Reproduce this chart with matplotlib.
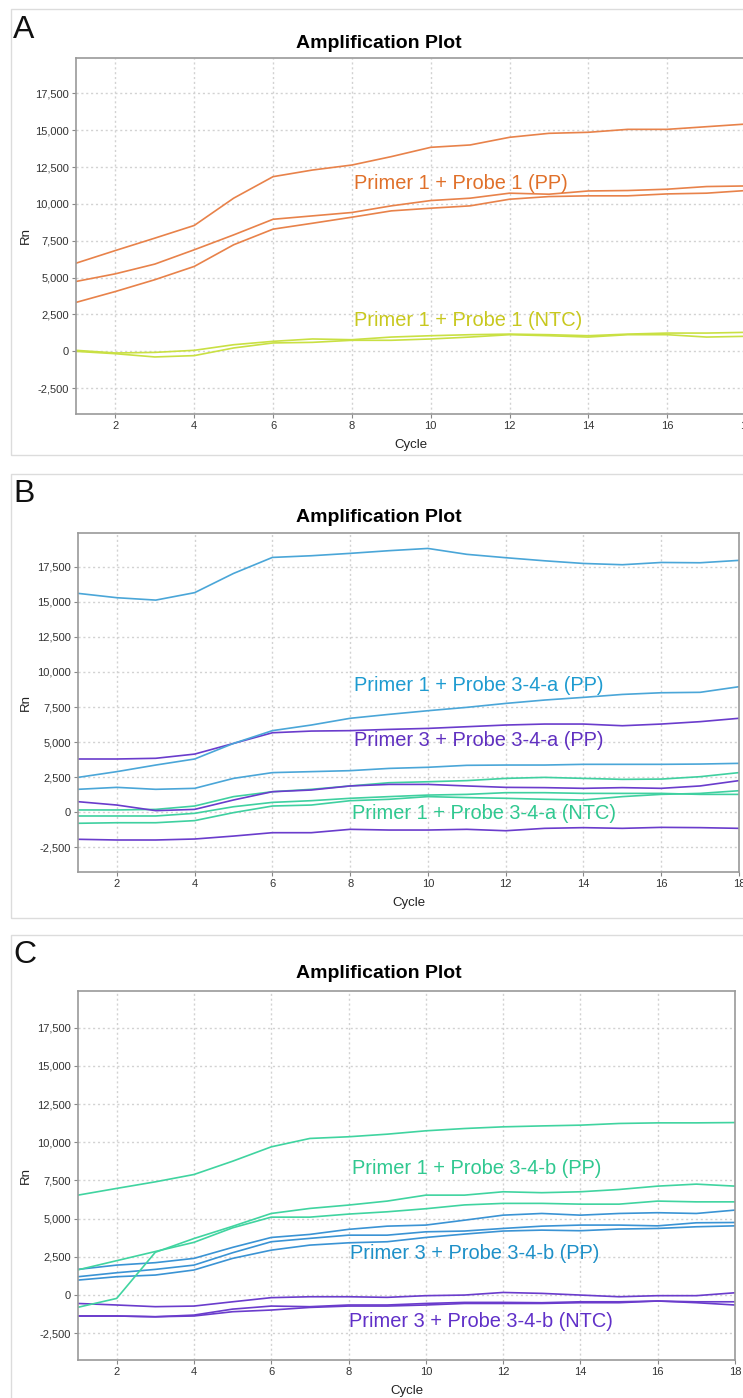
import numpy as np
import matplotlib
matplotlib.use("Agg")
import matplotlib.pyplot as plt
from matplotlib.patches import Rectangle
from matplotlib.ticker import FuncFormatter

plt.rcParams['font.family'] = ['Liberation Sans', 'DejaVu Sans']

cycles = np.arange(1, 19)

# panel A: Primer 1 + Probe 1
a_pp = [
    [5980, 6840, 7680, 8540, 10390, 11850, 12300, 12640, 13210, 13840, 14000, 14520, 14790, 14860, 15060, 15060, 15240, 15420],
    [4740, 5260, 5920, 6890, 7900, 8960, 9190, 9420, 9870, 10230, 10390, 10730, 10660, 10880, 10910, 11000, 11180, 11220],
    [3320, 4060, 4860, 5760, 7230, 8290, 8690, 9100, 9530, 9710, 9870, 10320, 10500, 10550, 10550, 10680, 10730, 10910],
]
a_ntc = [
    [70, -110, -70, 70, 450, 680, 840, 790, 970, 1060, 1130, 1170, 1130, 1060, 1170, 1240, 1240, 1290],
    [0, -160, -380, -290, 230, 570, 610, 750, 750, 840, 970, 1130, 1060, 970, 1130, 1130, 970, 1020],
]

# panel B: Probe 3-4-a
b_p1_pp = [
    [15600, 15290, 15120, 15650, 17020, 18160, 18280, 18450, 18640, 18800, 18380, 18140, 17920, 17730, 17640, 17800, 17780, 17950],
    [2490, 2900, 3370, 3800, 4910, 5820, 6220, 6700, 6980, 7240, 7480, 7760, 8000, 8190, 8400, 8520, 8550, 8950],
    [1640, 1780, 1640, 1710, 2420, 2830, 2900, 2970, 3130, 3210, 3350, 3370, 3370, 3420, 3420, 3420, 3440, 3490],
]
b_p3_pp = [
    [3800, 3800, 3850, 4150, 4910, 5670, 5790, 5820, 5910, 5980, 6100, 6220, 6290, 6290, 6170, 6290, 6460, 6700],
    [760, 520, 120, 210, 880, 1470, 1590, 1880, 1990, 1990, 1880, 1780, 1760, 1710, 1760, 1710, 1880, 2260],
    [-1920, -1970, -1970, -1900, -1690, -1450, -1450, -1210, -1260, -1260, -1210, -1310, -1140, -1090, -1140, -1070, -1090, -1140],
]
b_p1_ntc = [
    [170, 170, 210, 450, 1120, 1470, 1640, 1880, 2110, 2180, 2260, 2420, 2490, 2420, 2350, 2370, 2540, 2830],
    [-260, -260, -260, -70, 400, 710, 830, 1000, 1120, 1230, 1280, 1400, 1400, 1350, 1350, 1350, 1280, 1280],
    [-780, -740, -740, -590, -20, 450, 520, 830, 930, 1120, 1050, 1000, 930, 880, 1120, 1280, 1350, 1540],
]

# panel C: Probe 3-4-b
c_p1_pp = [
    [6540, 6980, 7410, 7890, 8760, 9700, 10250, 10360, 10530, 10750, 10900, 11010, 11070, 11120, 11230, 11270, 11270, 11290],
    [1650, 2250, 2850, 3450, 4400, 5100, 5100, 5300, 5450, 5650, 5900, 6000, 6000, 5950, 5950, 6150, 6100, 6100],
    [-800, -220, 2800, 3700, 4500, 5340, 5670, 5890, 6150, 6540, 6540, 6760, 6700, 6760, 6910, 7130, 7260, 7130],
]
c_p3_pp = [
    [1680, 1960, 2120, 2400, 3120, 3770, 3970, 4300, 4510, 4580, 4900, 5230, 5340, 5230, 5340, 5390, 5340, 5560],
    [1200, 1460, 1680, 1960, 2770, 3490, 3710, 3920, 3920, 4140, 4190, 4360, 4510, 4580, 4580, 4530, 4730, 4750],
    [980, 1200, 1310, 1640, 2400, 2940, 3270, 3420, 3490, 3770, 3990, 4190, 4250, 4210, 4320, 4360, 4470, 4530],
]
c_p3_ntc = [
    [-550, -650, -760, -720, -440, -170, -110, -110, -150, -40, 0, 170, 110, 0, -110, -40, -40, 150],
    [-1370, -1370, -1420, -1310, -920, -720, -760, -650, -650, -550, -480, -480, -500, -440, -440, -390, -440, -440],
    [-1370, -1370, -1420, -1370, -1090, -980, -810, -720, -720, -650, -550, -550, -550, -500, -500, -390, -500, -650],
]

yticks = [-2500, 0, 2500, 5000, 7500, 10000, 12500, 15000, 17500]
xticks = [2, 4, 6, 8, 10, 12, 14, 16, 18]

W, H = 743, 1398
fig = plt.figure(figsize=(W / 100, H / 100), dpi=100)


def px_axes(left, top, right, bottom):
    ax = fig.add_axes([left / W, 1 - bottom / H, (right - left) / W, (bottom - top) / H])
    # "Rn" sits at about x = 26 px in the reference
    ax.yaxis.set_label_coords(-(left - 26) / (right - left), 0.5)
    return ax


def frame(top, bottom, letter, letter_y):
    fig.patches.append(Rectangle((11 / W, 1 - bottom / H), (W + 5) / W, (bottom - top) / H,
                                 transform=fig.transFigure, fill=False,
                                 edgecolor='#dcdcdc', lw=1.0))
    fig.text(13 / W, 1 - letter_y / H, letter, fontsize=23, va='center', ha='left', color='#111111')


def style_axes(ax, title_y):
    ax.set_xlim(1, 18)
    ax.set_ylim(-4250, 19900)
    ax.set_xticks(xticks)
    ax.set_yticks(yticks)
    ax.yaxis.set_major_formatter(FuncFormatter(lambda v, p: f'{int(v):,}'))
    ax.tick_params(labelsize=8, length=3, color='#888888', labelcolor='#333333', pad=2)
    ax.grid(True, color='#d2d2d2', linestyle=(0, (1.5, 2)), lw=1.0)
    for s in ax.spines.values():
        s.set_color('#9a9a9a')
        s.set_linewidth(1.2)
    ax.set_xlabel('Cycle', fontsize=9.5, color='#222222', labelpad=6)
    ax.set_ylabel('Rn', fontsize=9.5, color='#222222', va='center')
    fig.text(379 / W, 1 - title_y / H, 'Amplification Plot',
             fontsize=14, fontweight='bold', ha='center', va='center')


def draw(ax, groups, colors):
    for grp, c in zip(groups, colors):
        for series in grp:
            ax.plot(cycles, series, color=c, lw=1.2)


# ---- A
frame(9, 455, 'A', 30)
axA = px_axes(76, 58, 746, 414)
style_axes(axA, 43)
draw(axA, [a_pp, a_ntc], ['#e8824a', '#c9e043'])
axA.text(8.05, 11400, 'Primer 1 + Probe 1 (PP)', color='#e0702a', fontsize=14.4, va='center')
axA.text(8.05, 2070, 'Primer 1 + Probe 1 (NTC)', color='#c8c81e', fontsize=14.4, va='center')

# ---- B
frame(474, 918, 'B', 494)
axB = px_axes(78, 533, 739, 872)
style_axes(axB, 517)
draw(axB, [b_p1_ntc, b_p3_pp, b_p1_pp], ['#3fd0a0', '#6a3ccc', '#4aa6d8'])
axB.text(8.1, 9070, 'Primer 1 + Probe 3-4-a (PP)', color='#1e9bd0', fontsize=14.4, va='center')
axB.text(8.1, 5140, 'Primer 3 + Probe 3-4-a (PP)', color='#6030c0', fontsize=14.4, va='center')
axB.text(8.05, -70, 'Primer 1 + Probe 3-4-a (NTC)', color='#30c890', fontsize=14.4, va='center')

# ---- C
frame(935, 1420, 'C', 955)
axC = px_axes(78, 991, 735, 1360)
style_axes(axC, 973)
draw(axC, [c_p3_ntc, c_p3_pp, c_p1_pp], ['#6a3ccc', '#3a93d4', '#40d4a0'])
axC.text(8.09, 8300, 'Primer 1 + Probe 3-4-b (PP)', color='#30c890', fontsize=14.4, va='center')
axC.text(8.05, 2745, 'Primer 3 + Probe 3-4-b (PP)', color='#1e90c8', fontsize=14.4, va='center')
axC.text(8.0, -1700, 'Primer 3 + Probe 3-4-b (NTC)', color='#6030c8', fontsize=14.4, va='center')

fig.savefig('out.png', dpi=100)
